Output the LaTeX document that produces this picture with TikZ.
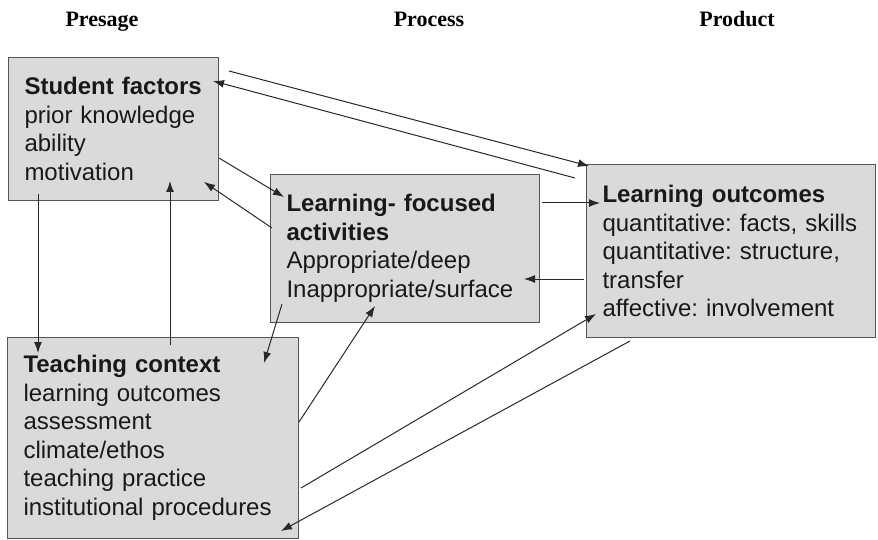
\documentclass[tikz,border=0pt]{standalone}
\usepackage{fontspec}
\setmainfont{Liberation Serif}
\newfontfamily\boxfont{Liberation Sans}
\usepackage{tikz}
\usetikzlibrary{arrows.meta}
\usetikzlibrary{positioning}
\frenchspacing
\hyphenpenalty=10000
\definecolor{boxgray}{RGB}{218,218,218}
\definecolor{edgegray}{RGB}{85,85,85}
\definecolor{linegray}{RGB}{40,40,40}
\tikzset{auto,>={Latex[length=11pt,width=8pt]}, x=1pt, y=-1pt, font=\fontsize{24}{28.5}\selectfont}
\tikzstyle{block} = [draw=edgegray, line width=1pt, fill=boxgray, rectangle, anchor=north west, align=left, inner xsep=16pt, inner ysep=0pt, text=black!90, font=\boxfont\fontsize{24}{28.5}\selectfont]
\tikzstyle{heading} = [anchor=base, inner sep=0pt, font=\bfseries\fontsize{22}{24}\selectfont]
\tikzstyle{link} = [->, draw=linegray, line width=1pt]

\begin{document}
\begin{tikzpicture}
		\useasboundingbox (0,0) rectangle (878,540);

		\node [heading] (presage) at (102,27) {Presage};
		\node [heading] (process) at (429,27) {Process};
		\node [heading] (product) at (737,27) {Product};

		\node [block, minimum width=210pt, minimum height=143pt, text width=178pt] (student) at (8,57) {\textbf{Student factors}\\prior knowledge\\ability\\motivation};
		\node [block, minimum width=269pt, minimum height=148pt, text width=237pt] (activity) at (270,174) {\textbf{Learning- focused}\\\textbf{activities}\\Appropriate/deep\\Inappropriate/surface};
		\node [block, minimum width=289pt, minimum height=173pt, text width=257pt] (outcome) at (586,164) {\textbf{Learning outcomes}\\quantitative: facts, skills\\quantitative: structure,\\transfer\\affective: involvement};
		\node [block, minimum width=291pt, minimum height=201pt, text width=259pt] (context) at (7,337) {\textbf{Teaching context}\\learning outcomes\\assessment\\climate/ethos\\teaching practice\\institutional procedures};

		% student factors <-> learning outcomes
		\draw [link] ([shift={(10,14)}]student.north east) -- ([shift={(3,2)}]outcome.north west);
		\draw [link] ([shift={(-11,14)}]outcome.north west) -- ([shift={(-6,24)}]student.north east);

		% student factors <-> activities
		\draw [link] ([shift={(0,101)}]student.north east) -- ([shift={(14,23)}]activity.north west);
		\draw [link] ([shift={(2,54)}]activity.north west) -- ([shift={(-15,125)}]student.north east);

		% activities <-> learning outcomes
		\draw [link] ([shift={(2,29)}]activity.north east) -- ([shift={(14,39)}]outcome.north west);
		\draw [link] ([shift={(-2,115)}]outcome.north west) -- ([shift={(-16,105)}]activity.north east);

		% student factors <-> teaching context
		\draw [link] ([shift={(30,-7)}]student.south west) -- ([shift={(31,16)}]context.north west);
		\draw [link] ([shift={(163,8)}]context.north west) -- ([shift={(162,-20)}]student.south west);

		% activities <-> teaching context
		\draw [link] ([shift={(12,-19)}]activity.south west) -- ([shift={(-35,26)}]context.north east);
		\draw [link] ([shift={(0,85)}]context.north east) -- ([shift={(105,-17)}]activity.south west);

		% teaching context <-> learning outcomes
		\draw [link] ([shift={(2,151)}]context.north east) -- ([shift={(10,-24)}]outcome.south west);
		\draw [link] ([shift={(44,3)}]outcome.south west) -- ([shift={(-18,-8)}]context.south east);
	\end{tikzpicture}
\end{document}
